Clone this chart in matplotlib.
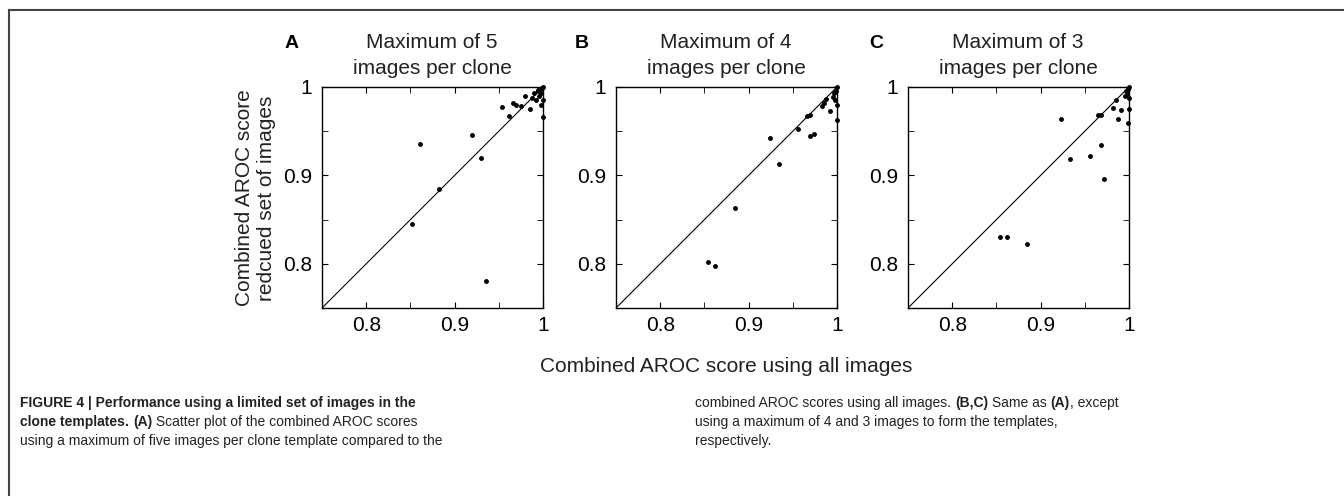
import numpy as np
import matplotlib.pyplot as plt
from matplotlib.lines import Line2D
from matplotlib.ticker import MultipleLocator

# panel A: max 5 images per clone
a_x = [0.852, 0.861, 0.882, 0.920, 0.930, 0.936, 0.954, 0.962, 0.966, 0.970, 0.975,
       0.980, 0.985, 0.988, 0.990, 0.992, 0.994, 0.995, 0.997, 0.998, 0.999, 1.0, 1.0, 1.0,
       0.998, 0.994]
a_y = [0.845, 0.935, 0.885, 0.946, 0.920, 0.781, 0.977, 0.967, 0.982, 0.980, 0.978,
       0.990, 0.975, 0.987, 0.993, 0.985, 0.996, 0.990, 0.998, 0.993, 0.999, 1.0, 0.985, 0.966,
       0.980, 0.997]

# panel B: max 4 images per clone
b_x = [0.854, 0.862, 0.885, 0.924, 0.934, 0.956, 0.966, 0.969, 0.970, 0.974, 0.983,
       0.985, 0.987, 0.992, 0.995, 0.997, 0.999, 1.0, 1.0, 1.0, 0.998]
b_y = [0.802, 0.797, 0.863, 0.942, 0.913, 0.952, 0.967, 0.968, 0.945, 0.947, 0.978,
       0.982, 0.986, 0.973, 0.989, 0.993, 0.996, 1.0, 0.963, 0.980, 0.985]

# panel C: max 3 images per clone
c_x = [0.854, 0.862, 0.885, 0.923, 0.933, 0.956, 0.965, 0.968, 0.968, 0.972, 0.982,
       0.985, 0.987, 0.991, 0.999, 0.995, 0.997, 0.999, 1.0, 1.0, 1.0, 0.998]
c_y = [0.830, 0.830, 0.822, 0.964, 0.918, 0.922, 0.968, 0.968, 0.934, 0.896, 0.976,
       0.985, 0.964, 0.974, 0.959, 0.990, 0.995, 0.998, 1.0, 0.988, 0.975, 0.992]

titles = ["Maximum of 5\nimages per clone", "Maximum of 4\nimages per clone",
          "Maximum of 3\nimages per clone"]
letters = ["A", "B", "C"]

W, H = 1344, 496
fig = plt.figure(figsize=(W / 100, H / 100), dpi=100)
plt.rcParams['font.family'] = ['Liberation Sans', 'DejaVu Sans']

def fx(px):
    return px / W

def fy(py):
    return 1 - py / H

lefts = [322, 616, 908]
letter_x = [292, 582, 876]
data = [(a_x, a_y), (b_x, b_y), (c_x, c_y)]
axes = []
for i in range(3):
    ax = fig.add_axes([fx(lefts[i]), fy(308), 221 / W, 221 / H])
    axes.append(ax)
    x, y = data[i]
    ax.plot([0.75, 1], [0.75, 1], color='black', lw=0.8)
    ax.plot(x, y, 'k.', ms=5, clip_on=False)
    ax.set_xlim(0.75, 1)
    ax.set_ylim(0.75, 1)
    ax.xaxis.set_minor_locator(MultipleLocator(0.05))
    ax.yaxis.set_minor_locator(MultipleLocator(0.05))
    ax.set_xticks([0.8, 0.9, 1.0])
    ax.set_xticklabels(["0.8", "0.9", "1"])
    ax.set_yticks([0.8, 0.9, 1.0])
    ax.set_yticklabels(["0.8", "0.9", "1"])
    ax.tick_params(which='both', direction='in', top=True, right=True, length=4)
    ax.tick_params(axis='y', labelsize=15, pad=7)
    ax.tick_params(axis='x', labelsize=15, pad=6)
    for s in ax.spines.values():
        s.set_linewidth(1.0)
    cx = lefts[i] + 110
    fig.text(fx(cx), fy(42), titles[i].split("\n")[0], fontsize=15, color='#222222',
             ha='center', va='center')
    fig.text(fx(cx), fy(69), titles[i].split("\n")[1], fontsize=15, color='#222222',
             ha='center', va='center')
    fig.text(fx(letter_x[i]), fy(43), letters[i], fontsize=14, fontweight='bold',
             ha='center', va='center')

fig.text(fx(255), fy(198), "Combined AROC score\nredcued set of images", fontsize=15,
         rotation=90, ha='center', va='center', linespacing=1.2, color='#222222')

fig.text(fx(726), fy(366), "Combined AROC score using all images",
         fontsize=15, ha='center', va='center', color='#222222')

# figure frame
fig.add_artist(Line2D([fx(9), 1], [fy(10), fy(10)], color='#444444', lw=1.5))
fig.add_artist(Line2D([fx(9), fx(9)], [0, fy(10)], color='#444444', lw=1.5))

# caption, built from pieces so that bold runs follow normal ones
cap = ['Liberation Sans', 'DejaVu Sans']
ax0 = axes[0]

def line(x0, y0, parts):
    prev = fig.text(fx(x0), fy(y0), parts[0][0], fontsize=10, family=cap,
                    fontweight=parts[0][1], va='baseline', color='#222222')
    for s, w in parts[1:]:
        prev = ax0.annotate(s, xy=(1, 0), xycoords=prev, va='bottom', ha='left',
                            fontsize=10, family=cap, fontweight=w,
                            annotation_clip=False, color='#222222')

line(20, 407, [("FIGURE 4 | Performance using a limited set of images in the", 'bold')])
line(20, 426, [("clone templates. ", 'bold'), ("(A)", 'bold'),
               (" Scatter plot of the combined AROC scores", 'normal')])
line(20, 445, [("using a maximum of five images per clone template compared to the", 'normal')])
line(695, 407, [("combined AROC scores using all images. ", 'normal'), ("(B,C)", 'bold'),
                (" Same as ", 'normal'), ("(A)", 'bold'), (", except", 'normal')])
line(695, 426, [("using a maximum of 4 and 3 images to form the templates,", 'normal')])
line(695, 445, [("respectively.", 'normal')])

fig.savefig('out.png', dpi=100)
